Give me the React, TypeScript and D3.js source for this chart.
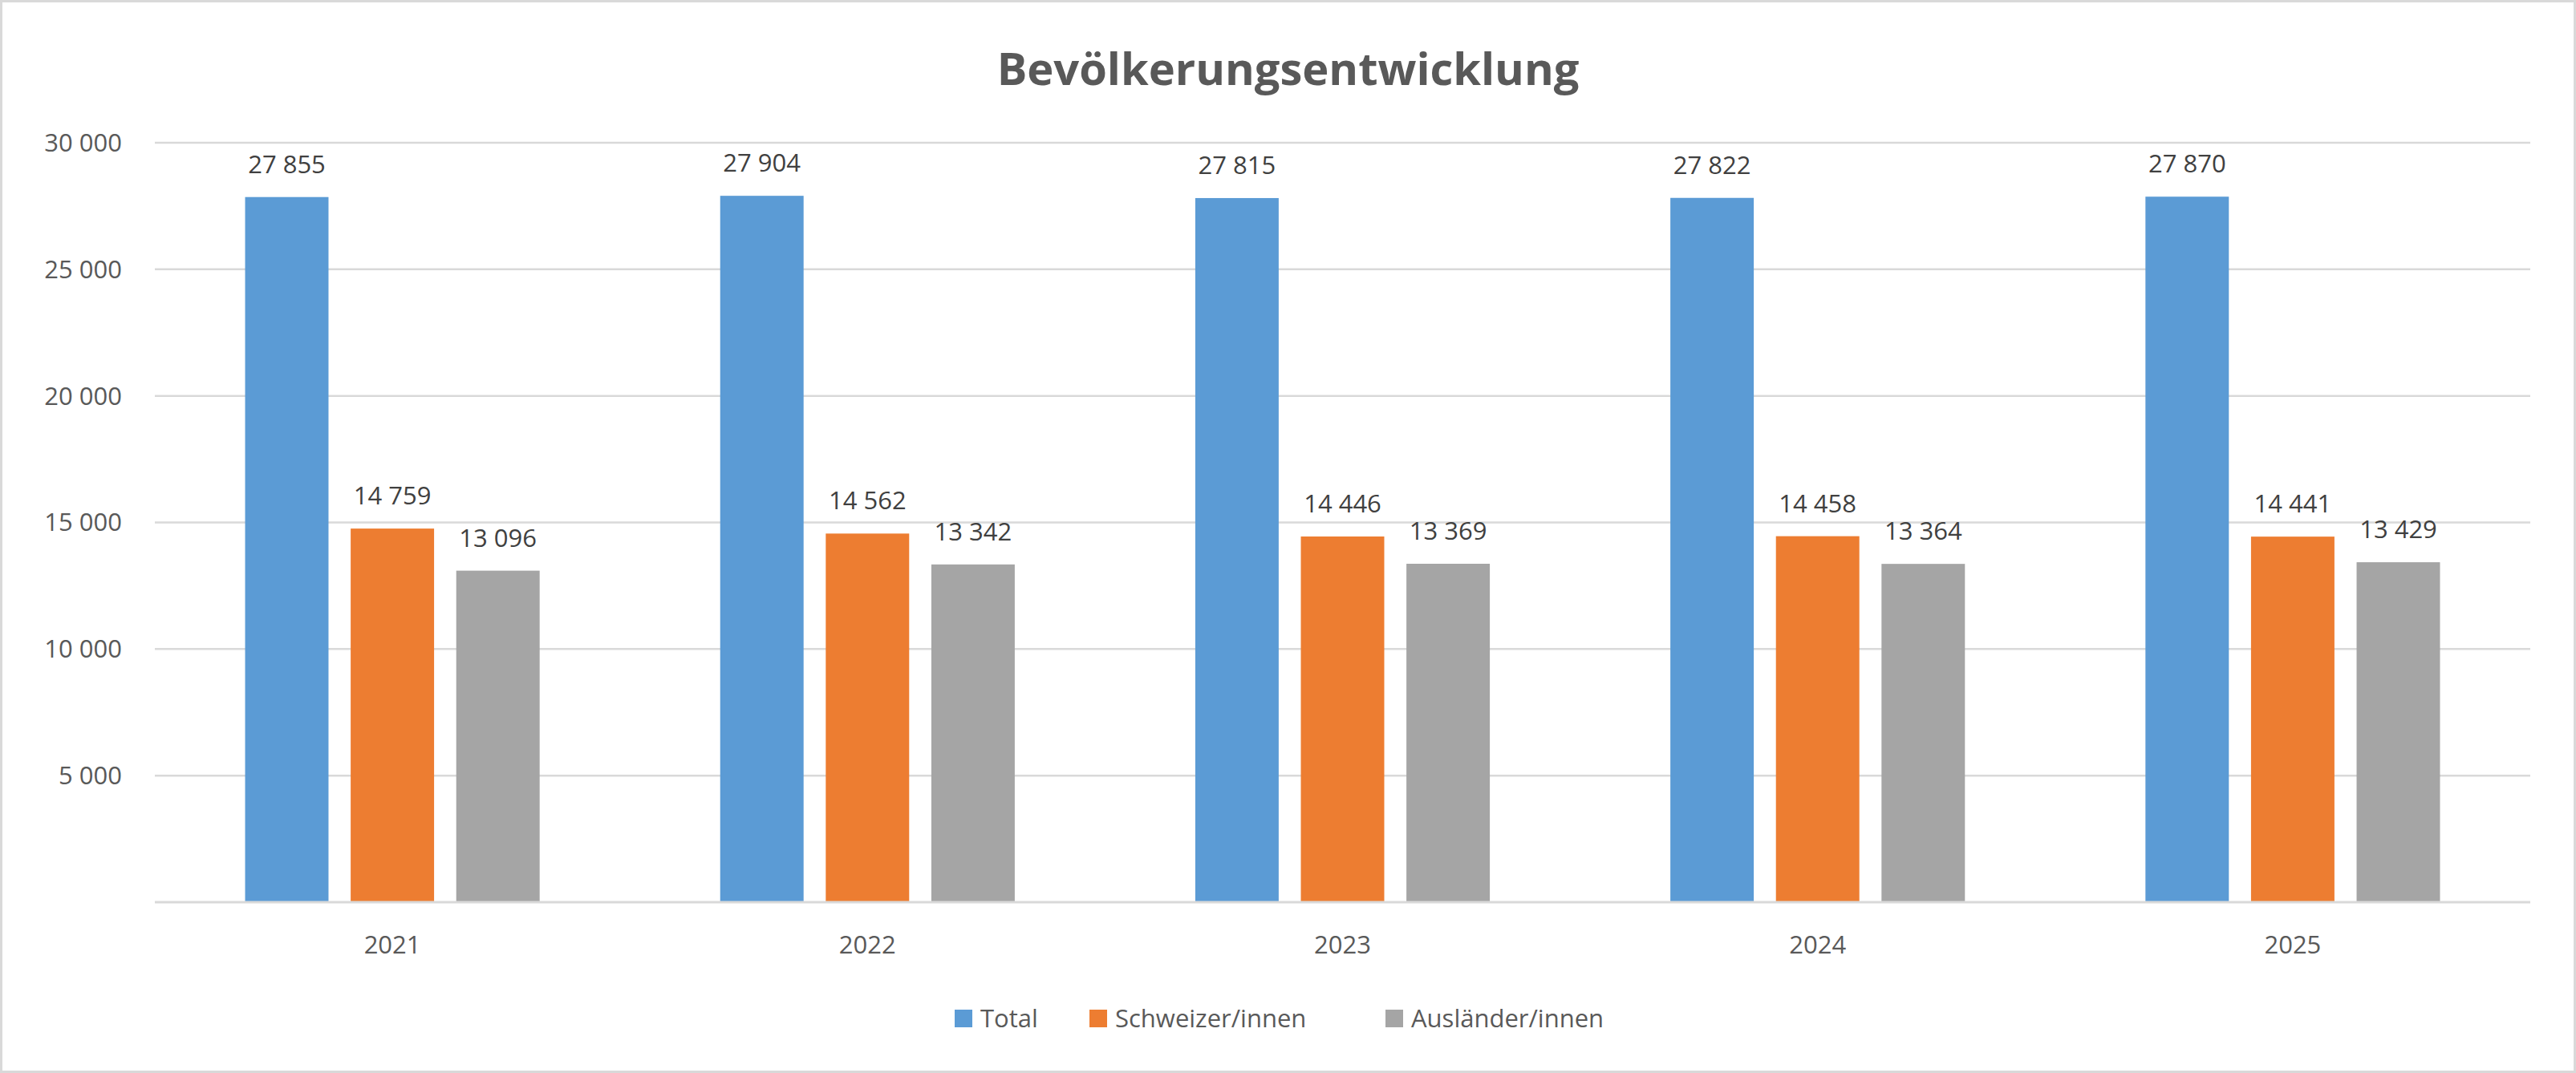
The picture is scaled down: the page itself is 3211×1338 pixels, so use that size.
import React from 'react';
import * as d3 from 'd3';

const years = ['2021', '2022', '2023', '2024', '2025'];
const seriesNames = ['Total', 'Schweizer/innen', 'Ausländer/innen'];
const total = [27855, 27904, 27815, 27822, 27870];
const schweizer = [14759, 14562, 14446, 14458, 14441];
const auslaender = [13096, 13342, 13369, 13364, 13429];
const yTicks = [5000, 10000, 15000, 20000, 25000, 30000];
const colors = ['#5B9BD5', '#ED7D31', '#A5A5A5'];

const W = 3211;
const H = 1338;
const margin = { top: 178, right: 57, bottom: 213, left: 193 };
const font = "'Open Sans', 'Noto Sans', sans-serif";

const fmt = (v: number) => d3.format(',')(v).replace(/,/g, ' ');

const App: React.FC = () => {
  const series = [total, schweizer, auslaender];
  const x = d3.scaleBand().domain(years).range([margin.left, W - margin.right]);
  const inner = d3
    .scaleBand()
    .domain(seriesNames)
    .range([0, x.bandwidth() * 0.62])
    .paddingInner(0.21);
  const off = (x.bandwidth() - x.bandwidth() * 0.62) / 2;
  const y = d3.scaleLinear().domain([0, 30000]).range([H - margin.bottom, margin.top]);

  const legendX = [1190, 1358, 1727];

  return (
    <svg width={W} height={H} style={{ display: 'block', position: 'absolute', left: 0, top: 0 }}>
      <rect x={1.5} y={1.5} width={W - 3} height={H - 3} fill="#fff" stroke="#D9D9D9" strokeWidth={3} />
      <text x={W / 2} y={106} textAnchor="middle" fontFamily={font} fontWeight="bold" fontSize={56} fill="#595959">
        Bevölkerungsentwicklung
      </text>
      {yTicks.map((t) => (
        <g key={t}>
          <line x1={margin.left} x2={W - margin.right} y1={y(t)} y2={y(t)} stroke="#D9D9D9" strokeWidth={2.5} />
          <text x={152} y={y(t)} dy="0.35em" textAnchor="end" fontFamily={font} fontSize={31} fill="#595959">
            {fmt(t)}
          </text>
        </g>
      ))}
      {years.map((yr, i) => (
        <g key={yr}>
          {series.map((s, j) => {
            const bx = (x(yr) as number) + off + (inner(seriesNames[j]) as number);
            return (
              <g key={j}>
                <rect x={bx} y={y(s[i])} width={inner.bandwidth()} height={y(0) - y(s[i])} fill={colors[j]} />
                <text
                  x={bx + inner.bandwidth() / 2}
                  y={y(s[i]) - 30}
                  textAnchor="middle"
                  fontFamily={font}
                  fontSize={31}
                  fill="#404040"
                >
                  {fmt(s[i])}
                </text>
              </g>
            );
          })}
          <text
            x={(x(yr) as number) + x.bandwidth() / 2}
            y={1178}
            dy="0.35em"
            textAnchor="middle"
            fontFamily={font}
            fontSize={31}
            fill="#595959"
          >
            {yr}
          </text>
        </g>
      ))}
      <line x1={margin.left} x2={W - margin.right} y1={y(0)} y2={y(0)} stroke="#D9D9D9" strokeWidth={3} />
      {seriesNames.map((n, j) => (
        <g key={n} transform={`translate(${legendX[j]},1270)`}>
          <rect x={0} y={-11} width={22} height={22} fill={colors[j]} />
          <text x={32} y={0} dy="0.35em" fontFamily={font} fontSize={31} fill="#595959">
            {n}
          </text>
        </g>
      ))}
    </svg>
  );
};

export default App;
